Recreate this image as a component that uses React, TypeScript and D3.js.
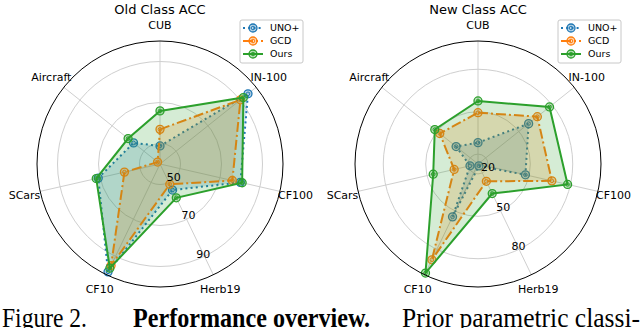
import React from "react";
import * as d3 from "d3";

const categories = ["CUB", "IN-100", "CF100", "Herb19", "CF10", "SCars", "Aircraft"];
const seriesNames = ["UNO+", "GCD", "Ours"];
const oldUNO = [48.8, 94.9, 80.2, 54.1, 98.4, 70.9, 56.5];
const oldGCD = [56.9, 90.2, 76.2, 51.0, 95.0, 57.8, 41.5];
const oldOurs = [65.9, 92.0, 81.1, 58.3, 96.4, 71.9, 59.9];
const newUNO = [28.1, 58.8, 47.4, 14.5, 54.5, 18.8, 32.8];
const newGCD = [49.3, 66.7, 66.6, 26.6, 88.2, 30.3, 47.6];
const newOurs = [57.6, 77.7, 78.0, 36.2, 98.6, 45.5, 52.1];
const oldTicks = [50, 70, 90];
const newTicks = [20, 50, 80];
const oldDomain = [40, 100];
const newDomain = [13, 100];

const COLORS = ["#1f77b4", "#ff7f0e", "#2ca02c"];
const DASHES = ["2,3.2", "10,3,2,3", null];
const FONT = "DejaVu Sans, Verdana, sans-serif";

function Radar({ cx, cy, title, data, ticks, domain, legendX }) {
  const R = 123;
  const r = d3.scaleLinear().domain(domain).range([0, R]);
  const angle = d3.scalePoint().domain(categories).range([0, 2 * Math.PI * (categories.length - 1) / categories.length]);
  const line = d3
    .lineRadial()
    .angle((d, i) => angle(categories[i]))
    .radius((d) => r(d))
    .curve(d3.curveLinearClosed);
  const pt = (a, rr) => [rr * Math.sin(a), -rr * Math.cos(a)];
  const labA = (159 * Math.PI) / 180;
  return (
    <g>
      <text x={cx} y={13.5} textAnchor="middle" fontFamily={FONT} fontSize={13}>
        {title}
      </text>
      <g transform={`translate(${cx},${cy})`}>
        {ticks.map((t) => (
          <circle key={t} r={r(t)} fill="none" stroke="#cfcfcf" strokeWidth={1} />
        ))}
        {categories.map((c) => {
          const [x, y] = pt(angle(c), R);
          return <line key={c} x1={0} y1={0} x2={x} y2={y} stroke="#cfcfcf" strokeWidth={1} />;
        })}
        {data.map((vals, si) => (
          <g key={si}>
            <path d={line(vals)} fill={COLORS[si]} fillOpacity={0.2} stroke="none" />
            <path
              d={line(vals)}
              fill="none"
              stroke={COLORS[si]}
              strokeWidth={2}
              strokeDasharray={DASHES[si] || undefined}
            />
            {vals.map((v, i) => {
              const [x, y] = pt(angle(categories[i]), r(v));
              return (
                <g key={i}>
                  <circle cx={x} cy={y} r={4} fill={COLORS[si]} fillOpacity={0.3} stroke={COLORS[si]} strokeWidth={1.3} />
                  <circle cx={x} cy={y} r={1.8} fill="none" stroke={COLORS[si]} strokeWidth={1} />
                </g>
              );
            })}
          </g>
        ))}
        <circle r={R} fill="none" stroke="#000" strokeWidth={1} />
        {ticks.map((t) => {
          const [x, y] = pt(labA, r(t));
          return (
            <text key={t} x={x + 6.5} y={y - 6} dy="0.35em" textAnchor="middle" fontFamily={FONT} fontSize={11}>
              {t}
            </text>
          );
        })}
        {categories.map((c) => {
          const [x, y] = pt(angle(c), 139);
          return (
            <text key={c} x={x} y={y} dy="0.35em" textAnchor="middle" fontFamily={FONT} fontSize={11}>
              {c}
            </text>
          );
        })}
      </g>
      <g transform={`translate(${legendX},20)`}>
        <rect x={0} y={0} width={63} height={43} rx={2} fill="#fff" fillOpacity={0.8} stroke="#c8c8c8" strokeWidth={1} />
        {seriesNames.map((s, i) => (
          <g key={s} transform={`translate(0,${8 + i * 13})`}>
            <line x1={3} x2={23} y1={0} y2={0} stroke={COLORS[i]} strokeWidth={2} strokeDasharray={DASHES[i] || undefined} />
            <circle cx={13} cy={0} r={4} fill={COLORS[i]} fillOpacity={0.3} stroke={COLORS[i]} strokeWidth={1.3} />
            <circle cx={13} cy={0} r={1.8} fill="none" stroke={COLORS[i]} strokeWidth={1} />
            <text x={30} y={0} dy="0.35em" fontFamily={FONT} fontSize={9.5}>
              {s}
            </text>
          </g>
        ))}
      </g>
    </g>
  );
}

export default function App() {
  return (
    <svg width={640} height={328} style={{ position: "absolute", left: 0, top: 0, background: "#fff" }}>
      <rect width={640} height={328} fill="#fff" />
      <Radar cx={160} cy={164} title="Old Class ACC" data={[oldUNO, oldGCD, oldOurs]} ticks={oldTicks} domain={oldDomain} legendX={240} />
      <Radar cx={478} cy={164} title="New Class ACC" data={[newUNO, newGCD, newOurs]} ticks={newTicks} domain={newDomain} legendX={558} />
      <g fontFamily="Liberation Serif, Times New Roman, serif" fontSize={28}>
        <text x={2} y={327} textLength={85} lengthAdjust="spacingAndGlyphs">Figure 2.</text>
        <text x={133} y={327} fontWeight="bold" textLength={237} lengthAdjust="spacingAndGlyphs">Performance overview.</text>
        <text x={402} y={327} textLength={238} lengthAdjust="spacingAndGlyphs">Prior parametric classi-</text>
      </g>
    </svg>
  );
}
